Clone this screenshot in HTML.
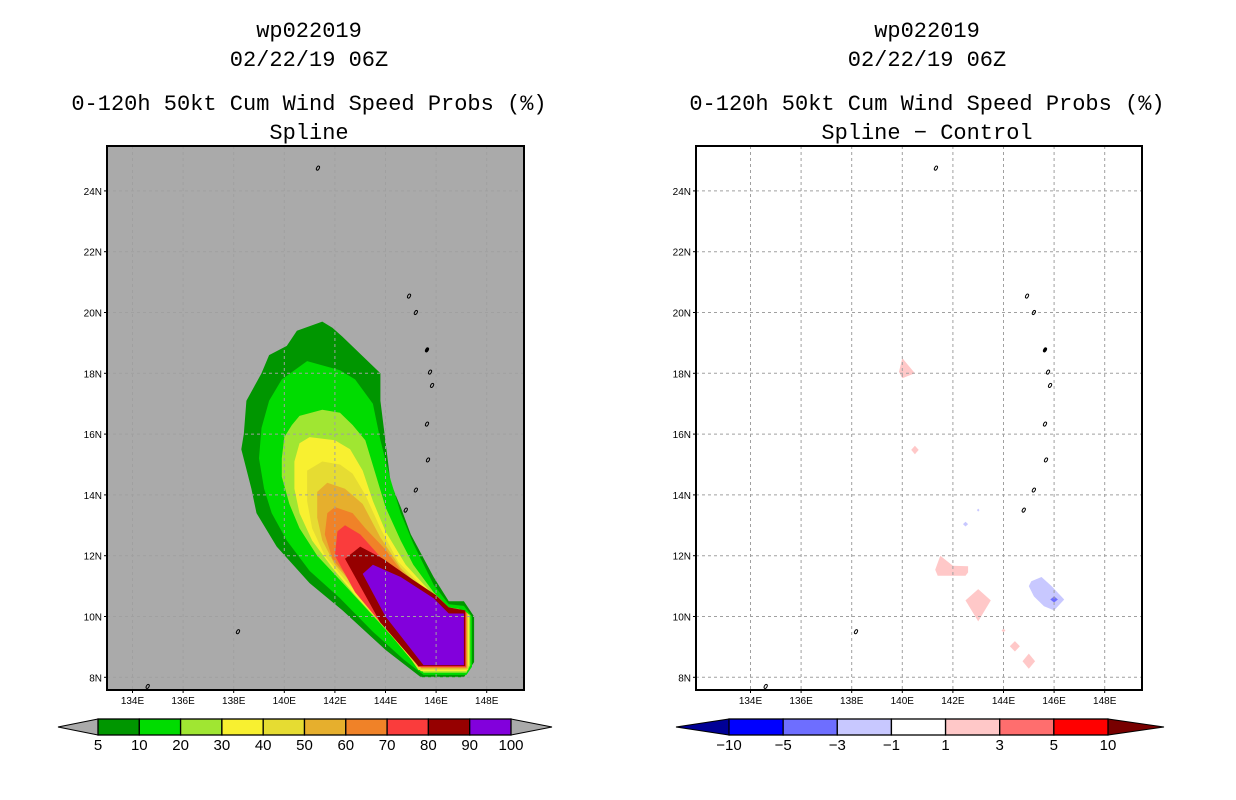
<!DOCTYPE html>
<html><head><meta charset="utf-8">
<style>
html,body{margin:0;padding:0;background:#fff;}
body{width:1236px;height:800px;overflow:hidden;position:relative;font-family:"Liberation Sans",sans-serif;}
svg{position:absolute;left:0;top:0;}
.t{font-family:"Liberation Mono",monospace;font-size:22px;fill:#000;text-anchor:middle;}
.tk{font-family:"Liberation Sans",sans-serif;font-size:10px;fill:#000;}
.cb{font-family:"Liberation Sans",sans-serif;font-size:15px;fill:#000;text-anchor:middle;}
</style></head><body>
<svg id="s" width="1236" height="800" viewBox="0 0 1236 800">
<text class="t" x="309" y="37">wp022019</text>
<text class="t" x="309" y="66">02/22/19 06Z</text>
<text class="t" x="309" y="110">0-120h 50kt Cum Wind Speed Probs (%)</text>
<text class="t" x="309" y="139">Spline</text>
<text class="t" x="927" y="37">wp022019</text>
<text class="t" x="927" y="66">02/22/19 06Z</text>
<text class="t" x="927" y="110">0-120h 50kt Cum Wind Speed Probs (%)</text>
<text class="t" x="927" y="139">Spline − Control</text>
</svg>
<script>
// ---- data ----
const lonTicks=[134,136,138,140,142,144,146,148];
const latTicks=[8,10,12,14,16,18,20,22,24];
const probLevels=[5,10,20,30,40,50,60,70,80,90,100];
const probColors=["#009600","#00dc00","#a0e632","#f8f030","#e6dc32","#e6af2d","#f08228","#fa3c3c","#960000","#8200dc"];
const diffLevels=[-10,-5,-3,-1,1,3,5,10];
const diffColors=["#0000ff","#6e6eff","#c8c8ff","#ffffff","#ffc8c8","#ff6e6e","#ff0000"];
// probability contour polygons (lon,lat), lower bound level
const prob5=[[141.5,19.7],[140.5,19.4],[140.1,18.9],[139.4,18.6],[139.1,18.0],[138.5,17.1],[138.4,16.0],[138.3,15.5],[138.7,14.2],[138.9,13.4],[139.7,12.3],[141.0,11.1],[142.3,10.2],[144.0,8.9],[145.4,8.0],[147.1,8.0],[147.5,8.5],[147.5,10.0],[147.1,10.5],[146.5,10.5],[145.9,11.3],[145.0,12.7],[144.6,13.6],[144.2,14.4],[143.8,17.1],[143.8,18.0],[142.3,19.2],[141.9,19.5]];
const prob10=[[140.9,18.4],[139.9,17.8],[139.4,17.1],[139.1,16.2],[139.0,15.2],[139.2,14.2],[139.5,13.4],[140.1,12.5],[141.0,11.5],[142.2,10.6],[143.5,9.5],[144.7,8.6],[145.5,8.08],[147.2,8.08],[147.42,8.35],[147.42,10.0],[147.1,10.35],[146.5,10.4],[145.9,11.05],[145.1,12.4],[144.6,13.4],[144.2,14.5],[143.8,15.8],[143.5,17.0],[142.8,17.8],[142.2,18.1]];
const prob20=[[141.5,16.8],[140.6,16.6],[140.3,16.3],[140.0,15.9],[139.9,15.2],[139.9,14.6],[140.2,13.7],[140.6,12.9],[141.3,12.0],[142.2,11.2],[143.2,10.3],[144.3,9.3],[145.2,8.5],[145.5,8.15],[147.2,8.15],[147.35,8.4],[147.35,10.05],[146.9,10.25],[146.5,10.3],[145.9,10.8],[145.1,11.7],[144.6,12.5],[144.0,13.6],[143.6,14.7],[143.2,15.8],[142.7,16.3],[142.2,16.7]];
const prob30=[[141.0,15.9],[140.6,15.7],[140.4,15.1],[140.4,14.2],[140.6,13.4],[141.1,12.5],[141.9,11.6],[142.8,10.7],[143.9,9.7],[144.9,8.7],[145.4,8.2],[147.2,8.2],[147.3,8.4],[147.3,10.05],[146.8,10.2],[146.5,10.25],[145.9,10.7],[144.8,11.7],[144.0,12.8],[143.5,13.8],[143.1,14.8],[142.6,15.5],[142.0,15.8]];
const prob40=[[141.5,15.1],[140.9,14.8],[140.9,13.8],[141.1,12.9],[141.6,12.0],[142.4,11.2],[143.5,10.2],[144.5,9.2],[145.3,8.24],[147.27,8.24],[147.27,10.1],[146.5,10.2],[145.9,10.6],[144.5,11.8],[143.8,12.9],[143.2,14.0],[142.7,14.7],[142.2,15.0]];
const prob50=[[141.7,14.4],[141.3,14.1],[141.3,13.25],[141.5,12.5],[142.0,11.7],[143.0,10.8],[144.0,9.85],[145.1,8.85],[145.4,8.28],[147.24,8.28],[147.24,10.12],[146.5,10.15],[145.9,10.5],[144.6,11.6],[143.8,12.6],[143.1,13.7],[142.4,14.2]];
const prob60=[[142.0,13.6],[141.7,13.4],[141.6,12.7],[141.9,11.9],[142.6,11.2],[143.5,10.4],[144.6,9.4],[145.2,8.7],[145.4,8.31],[147.21,8.31],[147.21,10.14],[146.5,10.15],[145.9,10.45],[144.8,11.3],[144.0,12.2],[143.2,12.9],[142.7,13.4]];
const prob70=[[142.4,13.0],[142.1,12.8],[142.0,12.0],[142.8,10.8],[143.8,9.8],[144.8,8.96],[145.3,8.34],[147.18,8.34],[147.18,10.16],[146.5,10.2],[145.9,10.4],[144.8,11.05],[143.76,12.0],[143.0,12.7]];
const prob80=[[142.4,11.9],[143.0,12.3],[143.9,11.9],[145.1,11.2],[146.0,10.7],[146.5,10.3],[147.15,10.2],[147.15,8.37],[145.3,8.37],[143.8,9.8],[143.0,11.0]];
const prob90=[[143.1,11.4],[143.5,11.7],[144.6,11.3],[145.9,10.6],[146.5,10.1],[147.1,10.1],[147.1,8.4],[145.5,8.4],[144.0,10.0]];
const probPolys=[prob5,prob10,prob20,prob30,prob40,prob50,prob60,prob70,prob80,prob90];
// difference blobs: [colorIndex, polygon]
const diffPink1=[[140.0,18.5],[140.5,18.0],[140.0,17.84],[139.87,18.05]];
const diffPink2=[[140.35,15.48],[140.5,15.62],[140.65,15.48],[140.5,15.34]];
const diffPink3=[[141.5,12.0],[142.0,11.67],[142.6,11.65],[142.6,11.45],[142.5,11.34],[141.4,11.34],[141.3,11.54]];
const diffPink4=[[143.0,10.9],[143.5,10.53],[143.0,9.84],[142.5,10.53]];
const diffPink5=[[143.92,9.54],[144.0,9.6],[144.08,9.54],[144.0,9.48]];
const diffPink6=[[144.25,9.02],[144.45,9.19],[144.65,9.02],[144.45,8.85]];
const diffPink7=[[144.75,8.53],[145.0,8.78],[145.25,8.53],[145.0,8.28]];
const diffBlue1=[[145.5,11.3],[145.9,11.0],[146.4,10.56],[146.0,10.2],[145.6,10.34],[145.2,10.66],[145.0,11.0],[145.1,11.16]];
const diffBlue2=[[142.4,13.04],[142.5,13.12],[142.6,13.04],[142.5,12.96]];
const diffBlue3=[[142.95,13.5],[143.0,13.55],[143.05,13.5],[143.0,13.45]];
const diffBlue4=[[145.85,10.56],[146.0,10.66],[146.15,10.56],[146.0,10.46]];
const diffLevelIdx=[4,4,4,4,4,4,4,2,2,2,1];
const diffPolys=[diffPink1,diffPink2,diffPink3,diffPink4,diffPink5,diffPink6,diffPink7,diffBlue1,diffBlue2,diffBlue3,diffBlue4];
// islands (lon,lat)
const islandLon=[141.33,144.93,145.2,145.64,145.76,145.84,145.64,145.68,145.2,144.8,138.17,134.6];
const islandLat=[24.75,20.54,20.0,18.77,18.04,17.6,16.33,15.15,14.16,13.5,9.5,7.7];

// ---- axes ----
const NS="http://www.w3.org/2000/svg";
const svg=document.getElementById('s');
const yTop=146,yBot=690;
function yOf(lat){return 373.3+(18-lat)*30.4;}
function makeX(x140){return lon=>x140+(lon-140)*25.3;}
const panels=[{name:'left',x0:107,x1:524,x:makeX(284.3)},{name:'right',x0:696,x1:1142,x:makeX(902.3)}];
function el(tag,attrs,parent){const e=document.createElementNS(NS,tag);for(const k in attrs)e.setAttribute(k,attrs[k]);(parent||svg).appendChild(e);return e;}
function pts(poly,xf){return poly.map(p=>xf(p[0]).toFixed(1)+','+yOf(p[1]).toFixed(1)).join(' ');}

panels.forEach((P,pi)=>{
  const g=el('g',{});
  
  
  const bg=el('rect',{x:P.x0,y:yTop,width:P.x1-P.x0,height:yBot-yTop,fill:pi==0?'#aaaaaa':'#ffffff'},g);
  
  
  if(pi==0){
    probPolys.forEach((poly,i)=>{
      const pg=el('polygon',{points:pts(poly,P.x),fill:probColors[i]},g);
      
      
    });
  } else {
    diffPolys.forEach((poly,i)=>{
      const pg=el('polygon',{points:pts(poly,P.x),fill:diffColors[diffLevelIdx[i]]},g);
      
      
    });
  }
  // gridlines
  lonTicks.forEach(l=>{
    const ln=el('line',{x1:P.x(l),x2:P.x(l),y1:yTop,y2:yBot,stroke:'#a0a0a0','stroke-width':1,'stroke-dasharray':'3,3'},g);
    
    
    const tk=el('line',{x1:P.x(l),x2:P.x(l),y1:yBot,y2:yBot+3,stroke:'#000'},g);
    
    
    const t=el('text',{x:P.x(l),y:yBot+14,class:'tk','text-anchor':'middle'},g);
    t.textContent=l+'E';
    
    
  });
  latTicks.forEach(l=>{
    const ln=el('line',{x1:P.x0,x2:P.x1,y1:yOf(l),y2:yOf(l),stroke:'#a0a0a0','stroke-width':1,'stroke-dasharray':'3,3'},g);
    
    
    const tk=el('line',{x1:P.x0-3,x2:P.x0,y1:yOf(l),y2:yOf(l),stroke:'#000'},g);
    
    
    const t=el('text',{x:P.x0-5,y:yOf(l)+4,class:'tk','text-anchor':'end'},g);
    t.textContent=l+'N';
    
    
  });
  islandLon.forEach((lo,i)=>{
    const is=el('ellipse',{cx:P.x(lo),cy:yOf(islandLat[i]),rx:1.3,ry:2.2,fill:i==3?'#000':'none',stroke:'#000','stroke-width':1,transform:'rotate(30 '+P.x(lo)+' '+yOf(islandLat[i])+')'},g);
    
    
  });
  const fr=el('rect',{x:P.x0,y:yTop,width:P.x1-P.x0,height:yBot-yTop,fill:'none',stroke:'#000','stroke-width':2},g);
  
  
});

// ---- colorbars ----
function colorbar(name,x0,x1,tipL,tipR,colors,labels,lc,rc){
  const g=el('g',{});
  
  
  const y0=719,y1=735,ym=727;
  const w=(x1-x0)/colors.length;
  const tl=el('polygon',{points:`${tipL},${ym} ${x0},${y0} ${x0},${y1}`,fill:lc,stroke:'#000','stroke-width':1},g);
  
  
  const tr=el('polygon',{points:`${tipR},${ym} ${x1},${y0} ${x1},${y1}`,fill:rc,stroke:'#000','stroke-width':1},g);
  
  
  colors.forEach((c,i)=>{
    const r=el('rect',{x:x0+i*w,y:y0,width:w,height:y1-y0,fill:c,stroke:'#000','stroke-width':1.3},g);
    
    
  });
  labels.forEach((lb,i)=>{
    const t=el('text',{x:x0+i*w,y:750,class:'cb'},g);
    t.textContent=String(lb).replace('-','−');
    
    
  });
}
colorbar('prob-colorbar',98,511,58,552,probColors,probLevels,'#aaaaaa','#aaaaaa');
colorbar('diff-colorbar',729,1108,676,1164,diffColors,diffLevels,'#000096','#780000');
</script>
</body></html>
